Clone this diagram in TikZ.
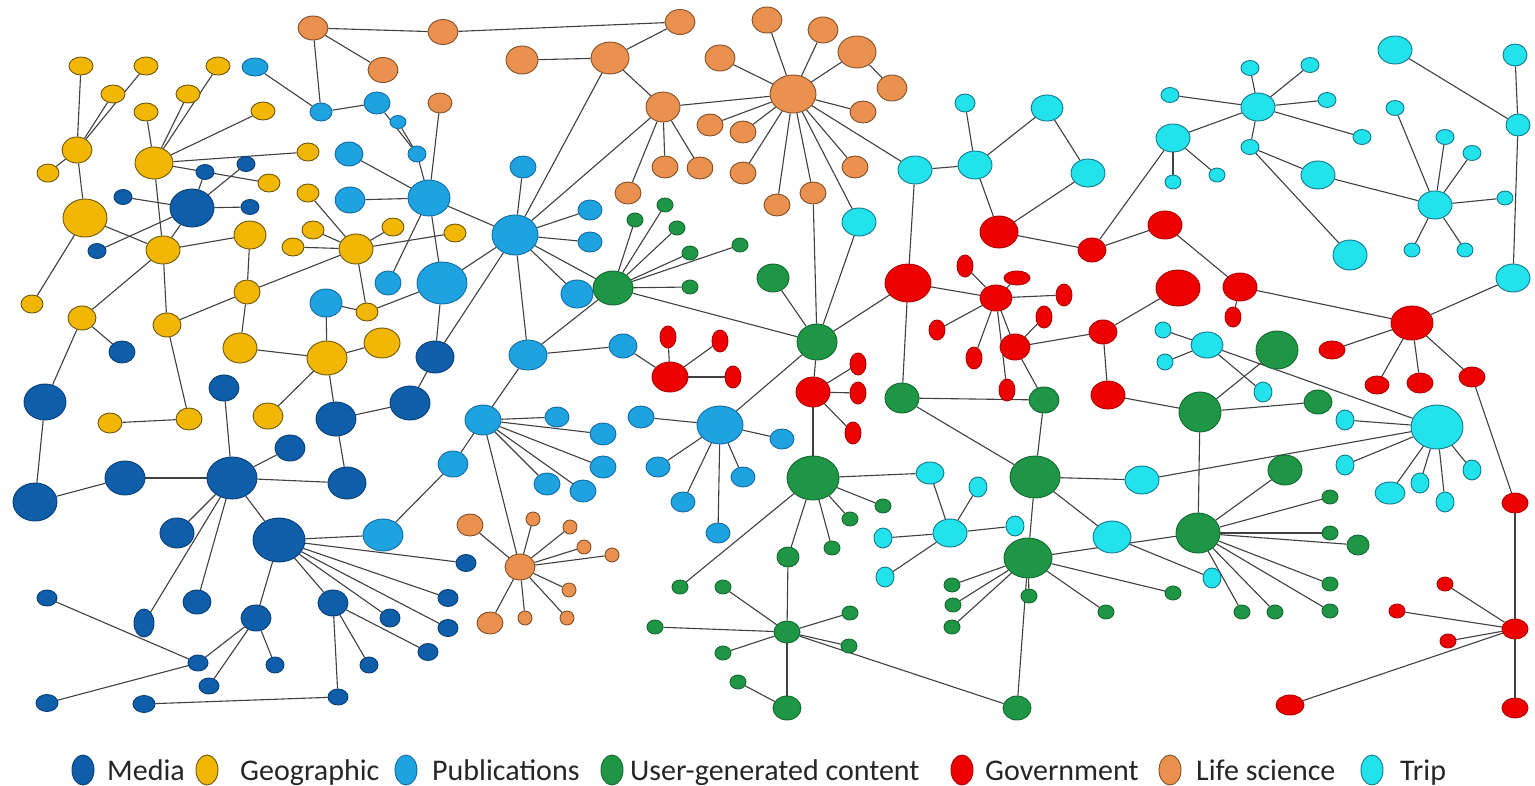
\documentclass[tikz,border=0pt]{standalone}
\usepackage{fontspec}
\setmainfont{Carlito}
\usetikzlibrary{shapes.geometric,backgrounds}
\definecolor{mediaF}{RGB}{14,94,170}
\definecolor{mediaD}{RGB}{8,62,118}
\definecolor{geoF}{RGB}{242,183,5}
\definecolor{geoD}{RGB}{110,88,10}
\definecolor{pubF}{RGB}{30,162,224}
\definecolor{pubD}{RGB}{18,108,165}
\definecolor{ugcF}{RGB}{30,150,70}
\definecolor{ugcD}{RGB}{18,105,48}
\definecolor{govF}{RGB}{236,0,0}
\definecolor{govD}{RGB}{175,0,0}
\definecolor{lifeF}{RGB}{234,145,80}
\definecolor{lifeD}{RGB}{130,80,40}
\definecolor{tripF}{RGB}{34,226,236}
\definecolor{tripD}{RGB}{18,120,140}
% one ellipse node: style, name, centre, width, height
\newcommand{\gnode}[5]{\node[#1,minimum width=#4pt,minimum height=#5pt] (#2) at (#3) {};}
\begin{document}
\begin{tikzpicture}[x=1pt,y=-1pt,
  nd/.style={ellipse,inner sep=0pt,line width=0.9pt},
  md/.style={nd,fill=mediaF,draw=mediaD},
  gg/.style={nd,fill=geoF,draw=geoD},
  pb/.style={nd,fill=pubF,draw=pubD},
  gr/.style={nd,fill=ugcF,draw=ugcD},
  rd/.style={nd,fill=govF,draw=govD},
  og/.style={nd,fill=lifeF,draw=lifeD},
  cy/.style={nd,fill=tripF,draw=tripD},
  lnk/.style={draw=black!75,line width=1.1pt},
  lg/.style={font=\fontsize{30}{31}\selectfont,anchor=base west,inner sep=0pt,text=black!85}
]
\useasboundingbox (0,0) rectangle (1535,785);

% ---- Media
\gnode{md}{M1}{192,208}{44}{38}
\gnode{md}{M2}{205,172}{18}{15}
\gnode{md}{M3}{246,164}{18}{15}
\gnode{md}{M4}{123,197}{18}{15}
\gnode{md}{M5}{250,207}{18}{15}
\gnode{md}{M6}{97,251}{18}{15}
\gnode{md}{M7}{122,352}{26}{22}
\gnode{md}{M8}{435,357}{38}{32}
\gnode{md}{M9}{45,402}{42}{36}
\gnode{md}{M10}{35,502}{44}{38}
\gnode{md}{M11}{125,478}{40}{34}
\gnode{md}{M12}{232,478}{50}{42}
\gnode{md}{M13}{224,388}{30}{26}
\gnode{md}{M14}{290,448}{30}{26}
\gnode{md}{M15}{336,419}{40}{34}
\gnode{md}{M16}{347,483}{38}{32}
\gnode{md}{M17}{410,403}{40}{34}
\gnode{md}{M18}{177,533}{34}{30}
\gnode{md}{M19}{279,540}{52}{44}
\gnode{md}{M20}{47,598}{20}{16}
\gnode{md}{M21}{144,623}{20}{28}
\gnode{md}{M22}{197,602}{28}{24}
\gnode{md}{M23}{256,618}{30}{26}
\gnode{md}{M24}{333,603}{30}{26}
\gnode{md}{M25}{390,618}{20}{18}
\gnode{md}{M26}{198,663}{20}{16}
\gnode{md}{M27}{275,665}{18}{16}
\gnode{md}{M28}{369,665}{18}{16}
\gnode{md}{M29}{209,686}{20}{16}
\gnode{md}{M30}{47,703}{22}{17}
\gnode{md}{M31}{144,704}{22}{17}
\gnode{md}{M32}{338,697}{20}{16}
\gnode{md}{M34}{466,563}{20}{17}
\gnode{md}{M35}{448,598}{20}{17}
\gnode{md}{M37}{448,628}{20}{17}
\gnode{md}{M38}{428,652}{20}{17}

% ---- Geographic
\gnode{gg}{Y1}{81,66}{24}{18}
\gnode{gg}{Y2}{146,66}{24}{18}
\gnode{gg}{Y3}{218,66}{24}{18}
\gnode{gg}{Y4}{113,94}{24}{18}
\gnode{gg}{Y5}{188,94}{24}{18}
\gnode{gg}{Y6}{146,112}{24}{18}
\gnode{gg}{Y7}{263,111}{24}{18}
\gnode{gg}{Y8}{77,150}{30}{26}
\gnode{gg}{Y9}{48,173}{22}{18}
\gnode{gg}{Y10}{154,163}{38}{32}
\gnode{gg}{Y11}{308,152}{22}{18}
\gnode{gg}{Y12}{269,183}{22}{18}
\gnode{gg}{Y13}{308,193}{22}{18}
\gnode{gg}{Y14}{85,218}{44}{38}
\gnode{gg}{Y15}{163,250}{34}{28}
\gnode{gg}{Y16}{250,235}{32}{28}
\gnode{gg}{Y17}{313,230}{22}{18}
\gnode{gg}{Y18}{293,247}{22}{18}
\gnode{gg}{Y19}{356,249}{34}{30}
\gnode{gg}{Y20}{393,227}{22}{18}
\gnode{gg}{Y21}{247,292}{26}{24}
\gnode{gg}{Y22}{32,304}{22}{18}
\gnode{gg}{Y23}{82,318}{28}{24}
\gnode{gg}{Y24}{167,325}{28}{24}
\gnode{gg}{Y25}{367,312}{22}{18}
\gnode{gg}{Y26}{240,348}{34}{30}
\gnode{gg}{Y27}{327,358}{40}{34}
\gnode{gg}{Y28}{382,343}{36}{30}
\gnode{gg}{Y29}{455,233}{22}{18}
\gnode{gg}{Y30}{110,423}{24}{20}
\gnode{gg}{Y31}{189,419}{26}{22}
\gnode{gg}{Y32}{268,416}{30}{26}

% ---- Publications
\gnode{pb}{P1}{255,67}{26}{18}
\gnode{pb}{P2}{321,112}{22}{18}
\gnode{pb}{P3}{377,103}{26}{22}
\gnode{pb}{P5}{349,154}{28}{24}
\gnode{pb}{P6}{350,200}{30}{26}
\gnode{pb}{P7}{388,283}{26}{24}
\gnode{pb}{P8}{326,303}{32}{28}
\gnode{pb}{P9}{442,283}{50}{42}
\gnode{pb}{P10}{429,198}{42}{36}
\gnode{pb}{P11}{417,154}{18}{16}
\gnode{pb}{P12}{398,122}{16}{13}
\gnode{pb}{P13}{523,167}{26}{22}
\gnode{pb}{P14}{515,235}{46}{40}
\gnode{pb}{P15}{590,210}{24}{20}
\gnode{pb}{P16}{590,242}{24}{20}
\gnode{pb}{P17}{577,294}{32}{28}
\gnode{pb}{P18}{528,355}{38}{30}
\gnode{pb}{P19}{623,346}{28}{24}
\gnode{pb}{P20}{383,535}{40}{32}
\gnode{pb}{P21}{483,420}{36}{30}
\gnode{pb}{P22}{453,464}{30}{26}
\gnode{pb}{P23}{557,417}{24}{20}
\gnode{pb}{P24}{603,434}{26}{22}
\gnode{pb}{P25}{603,467}{26}{22}
\gnode{pb}{P26}{547,484}{26}{22}
\gnode{pb}{P27}{583,491}{26}{22}
\gnode{pb}{P28}{641,417}{26}{22}
\gnode{pb}{P29}{720,425}{46}{38}
\gnode{pb}{P30}{658,467}{24}{20}
\gnode{pb}{P31}{743,477}{24}{20}
\gnode{pb}{P32}{683,502}{24}{20}
\gnode{pb}{P33}{718,533}{24}{20}
\gnode{pb}{P34}{782,439}{24}{20}

% ---- User-generated content
\gnode{gr}{G1}{613,288}{40}{34}
\gnode{gr}{Ga}{635,220}{16}{14}
\gnode{gr}{Gb}{665,205}{16}{14}
\gnode{gr}{Gc}{677,228}{16}{14}
\gnode{gr}{Gd}{690,253}{16}{14}
\gnode{gr}{Ge}{740,245}{16}{14}
\gnode{gr}{Gf}{690,287}{16}{14}
\gnode{gr}{G2}{773,278}{32}{28}
\gnode{gr}{G3}{817,342}{40}{36}
\gnode{gr}{G4}{902,398}{34}{30}
\gnode{gr}{G5}{1044,400}{30}{26}
\gnode{gr}{G6}{1277,350}{42}{38}
\gnode{gr}{G7}{813,478}{52}{44}
\gnode{gr}{G8}{680,587}{16}{14}
\gnode{gr}{G9}{723,587}{16}{14}
\gnode{gr}{G10}{655,627}{16}{14}
\gnode{gr}{G11}{723,653}{16}{14}
\gnode{gr}{G12}{738,682}{16}{14}
\gnode{gr}{G13}{787,632}{26}{22}
\gnode{gr}{G14}{787,708}{28}{24}
\gnode{gr}{G15}{1035,477}{50}{42}
\gnode{gr}{G16}{883,506}{16}{14}
\gnode{gr}{G17}{850,519}{16}{14}
\gnode{gr}{G18}{832,548}{16}{14}
\gnode{gr}{G19}{788,557}{22}{20}
\gnode{gr}{G20}{1028,558}{48}{40}
\gnode{gr}{G21}{952,585}{16}{14}
\gnode{gr}{G22}{953,605}{16}{14}
\gnode{gr}{G23}{952,627}{16}{14}
\gnode{gr}{G24}{1029,596}{16}{14}
\gnode{gr}{G25}{1106,612}{16}{14}
\gnode{gr}{G26}{850,613}{16}{14}
\gnode{gr}{G27}{849,646}{16}{14}
\gnode{gr}{G28}{1017,708}{28}{24}
\gnode{gr}{G29}{1200,412}{42}{40}
\gnode{gr}{G30}{1198,533}{44}{40}
\gnode{gr}{G31}{1318,402}{28}{24}
\gnode{gr}{G32}{1285,470}{34}{30}
\gnode{gr}{G33}{1330,497}{16}{14}
\gnode{gr}{G34}{1330,533}{16}{14}
\gnode{gr}{G35}{1358,545}{22}{20}
\gnode{gr}{G36}{1330,584}{16}{14}
\gnode{gr}{G37}{1330,611}{16}{14}
\gnode{gr}{G38}{1275,612}{16}{14}
\gnode{gr}{G39}{1242,612}{16}{14}
\gnode{gr}{G40}{1173,593}{16}{14}

% ---- Government
\gnode{rd}{R1}{999,232}{38}{32}
\gnode{rd}{R2}{1092,250}{28}{24}
\gnode{rd}{R3}{1165,225}{34}{28}
\gnode{rd}{R4}{908,283}{46}{38}
\gnode{rd}{R5}{965,266}{16}{22}
\gnode{rd}{R6}{1017,278}{26}{14}
\gnode{rd}{R7}{996,298}{32}{26}
\gnode{rd}{R8}{1064,295}{16}{22}
\gnode{rd}{R9}{937,330}{16}{20}
\gnode{rd}{R10}{1044,317}{16}{22}
\gnode{rd}{R11}{974,358}{16}{22}
\gnode{rd}{R12}{1015,347}{30}{26}
\gnode{rd}{R13}{1103,332}{28}{24}
\gnode{rd}{R14}{858,364}{16}{22}
\gnode{rd}{R15}{1178,288}{44}{36}
\gnode{rd}{R16}{1007,390}{16}{22}
\gnode{rd}{R17}{1108,395}{34}{28}
\gnode{rd}{R18}{1240,287}{34}{28}
\gnode{rd}{R19}{1233,317}{16}{20}
\gnode{rd}{R20}{1412,323}{42}{34}
\gnode{rd}{R21}{1332,350}{26}{18}
\gnode{rd}{R22}{813,392}{34}{30}
\gnode{rd}{R23}{858,393}{16}{22}
\gnode{rd}{R24}{853,433}{16}{22}
\gnode{rd}{R25}{1377,385}{24}{18}
\gnode{rd}{R26}{1420,383}{26}{20}
\gnode{rd}{R27}{1472,377}{26}{20}
\gnode{rd}{R28}{1515,503}{26}{20}
\gnode{rd}{R29}{1445,584}{16}{14}
\gnode{rd}{R30}{1397,611}{16}{14}
\gnode{rd}{R31}{1448,641}{16}{14}
\gnode{rd}{R32}{1515,629}{26}{20}
\gnode{rd}{R33}{1290,705}{28}{20}
\gnode{rd}{R34}{1515,708}{26}{20}
\gnode{rd}{R35}{670,377}{36}{30}
\gnode{rd}{R36}{668,337}{16}{22}
\gnode{rd}{R37}{720,341}{16}{22}
\gnode{rd}{R38}{733,377}{16}{22}

% ---- Life science
\gnode{og}{O1}{313,28}{30}{24}
\gnode{og}{O2}{383,70}{30}{25}
\gnode{og}{O3}{443,32}{30}{25}
\gnode{og}{O4}{680,22}{30}{25}
\gnode{og}{O5}{522,60}{32}{28}
\gnode{og}{O6}{610,58}{38}{32}
\gnode{og}{O7}{440,103}{24}{20}
\gnode{og}{O8}{663,107}{34}{30}
\gnode{og}{O9}{720,58}{30}{26}
\gnode{og}{O10}{767,20}{30}{26}
\gnode{og}{O11}{710,125}{26}{22}
\gnode{og}{O12}{743,132}{26}{22}
\gnode{og}{O13}{665,167}{26}{22}
\gnode{og}{O14}{700,168}{26}{22}
\gnode{og}{O15}{743,173}{26}{22}
\gnode{og}{O16}{628,193}{26}{22}
\gnode{og}{O18}{793,94}{46}{38}
\gnode{og}{O19}{823,30}{30}{26}
\gnode{og}{O20}{857,52}{38}{32}
\gnode{og}{O21}{892,88}{30}{26}
\gnode{og}{O22}{863,112}{26}{22}
\gnode{og}{O23}{855,167}{26}{22}
\gnode{og}{O24}{813,193}{26}{22}
\gnode{og}{O25}{777,205}{26}{22}
\gnode{og}{O26}{470,525}{26}{22}
\gnode{og}{O27}{520,567}{30}{26}
\gnode{og}{O28}{533,519}{14}{14}
\gnode{og}{O29}{570,527}{14}{14}
\gnode{og}{O30}{584,547}{14}{14}
\gnode{og}{O31}{612,555}{14}{14}
\gnode{og}{O32}{569,590}{14}{14}
\gnode{og}{O33}{567,618}{14}{14}
\gnode{og}{O34}{525,618}{14}{14}
\gnode{og}{O35}{490,623}{26}{22}

% ---- Trip
\gnode{cy}{C1}{965,103}{20}{18}
\gnode{cy}{C2}{1047,108}{32}{26}
\gnode{cy}{C3}{915,170}{34}{28}
\gnode{cy}{C4}{975,165}{34}{28}
\gnode{cy}{C5}{1088,173}{34}{28}
\gnode{cy}{C6}{859,222}{34}{28}
\gnode{cy}{C7}{1173,138}{34}{28}
\gnode{cy}{C8}{1170,95}{18}{15}
\gnode{cy}{C9}{1258,107}{34}{28}
\gnode{cy}{C10}{1250,68}{18}{15}
\gnode{cy}{C11}{1310,65}{18}{15}
\gnode{cy}{C12}{1327,100}{18}{15}
\gnode{cy}{C13}{1362,137}{18}{15}
\gnode{cy}{C14}{1250,147}{18}{15}
\gnode{cy}{C15}{1173,182}{16}{14}
\gnode{cy}{C16}{1217,175}{16}{14}
\gnode{cy}{C17}{1318,175}{34}{28}
\gnode{cy}{C18}{1350,255}{34}{30}
\gnode{cy}{C19}{1395,50}{34}{28}
\gnode{cy}{C20}{1515,55}{24}{22}
\gnode{cy}{C21}{1518,125}{24}{22}
\gnode{cy}{C22}{1395,108}{18}{15}
\gnode{cy}{C23}{1445,137}{18}{15}
\gnode{cy}{C24}{1472,153}{18}{15}
\gnode{cy}{C25}{1435,205}{34}{28}
\gnode{cy}{C26}{1505,198}{16}{14}
\gnode{cy}{C27}{1412,250}{16}{14}
\gnode{cy}{C28}{1465,250}{16}{14}
\gnode{cy}{C29}{1513,278}{34}{28}
\gnode{cy}{C30}{1163,330}{16}{16}
\gnode{cy}{C31}{1207,345}{32}{26}
\gnode{cy}{C32}{1165,362}{16}{16}
\gnode{cy}{C33}{930,473}{28}{22}
\gnode{cy}{C34}{978,487}{18}{20}
\gnode{cy}{C35}{950,533}{34}{28}
\gnode{cy}{C36}{883,538}{18}{20}
\gnode{cy}{C37}{1015,526}{18}{20}
\gnode{cy}{C38}{885,577}{18}{20}
\gnode{cy}{C39}{1142,480}{34}{28}
\gnode{cy}{C40}{1112,537}{38}{32}
\gnode{cy}{C41}{1212,578}{18}{20}
\gnode{cy}{C42}{1263,392}{18}{20}
\gnode{cy}{C43}{1345,420}{18}{20}
\gnode{cy}{C44}{1437,427}{52}{44}
\gnode{cy}{C45}{1345,465}{18}{20}
\gnode{cy}{C46}{1390,493}{30}{22}
\gnode{cy}{C47}{1420,483}{18}{20}
\gnode{cy}{C48}{1445,502}{18}{20}
\gnode{cy}{C49}{1472,470}{18}{20}

% ---- links, under the nodes
\begin{scope}[on background layer]
\fill[white] (0,0) rectangle (1535,785);
\foreach \a/\b in {
  Y1/Y8,Y2/Y8,Y4/Y8,Y9/Y8,Y8/Y14,Y14/Y22,Y14/Y15,
  Y10/Y6,Y10/Y5,Y10/Y3,Y10/Y7,Y10/Y11,Y10/Y12,Y10/Y15,
  M1/M2,M1/M3,M1/M5,M1/M4,M1/M6,Y15/M1,
  Y15/Y16,Y15/Y24,Y15/Y23,Y16/Y21,Y24/Y21,Y21/Y19,Y21/Y26,Y26/Y27,Y27/Y28,
  Y13/Y19,Y17/Y19,Y18/Y19,Y19/Y20,Y19/Y29,Y19/Y25,Y25/P8,Y25/P9,P8/Y27,
  Y23/M7,Y23/M9,Y24/Y31,Y30/Y31,Y27/Y32,Y27/M15,
  P1/P2,O1/P2,O1/O2,O1/O3,O3/O4,P2/P3,P3/P11,P12/P11,P11/P10,O7/P10,P5/P10,P6/P10,
  P10/P14,P10/P7,P10/P9,P9/M8,P9/P14,P14/M8,M8/M17,
  O4/O6,O5/O6,O6/O8,O6/P14,O8/P14,O8/O18,O8/O16,O8/O13,O8/O14,
  O9/O18,O11/O18,O12/O18,O15/O18,O10/O18,O19/O18,O20/O18,O20/O21,O22/O18,O23/O18,
  O24/O18,O25/O18,O18/C3,O18/C6,O24/G3,
  P14/P13,P14/P15,P14/P16,P14/P17,P14/G1,P14/P18,
  G1/P18,P18/P19,P19/R35,R35/R36,R35/R37,R35/R38,
  G1/Ga,G1/Gb,G1/Gc,G1/Gd,G1/Ge,G1/Gf,G1/G3,G2/G3,C6/G3,R4/G3,R22/G3,P29/G3,
  C3/C4,C3/R4,C4/C1,C4/C2,C4/R1,C2/C5,C5/R1,R1/R2,R2/C7,R2/R3,
  R4/R7,R4/G4,R7/R5,R7/R6,R7/R8,R7/R9,R7/R11,R7/R16,R7/R12,R12/G5,R12/R10,R12/R13,
  R13/R15,R13/R17,
  C7/C9,C7/C15,C7/C16,C9/C8,C9/C10,C9/C11,C9/C12,C9/C13,C9/C14,C14/C17,C14/C18,
  C17/C25,C25/C22,C25/C23,C25/C24,C25/C26,C25/C27,C25/C28,
  C19/C21,C20/C21,C21/C29,C29/R20,R3/R18,R18/R20,R18/R19,R20/R21,R20/R25,R20/R26,
  R20/R27,R27/R28,R28/R32,R32/R34,R32/R29,R32/R30,R32/R31,R32/R33,
  C31/C30,C31/C32,C31/C42,C31/C44,C44/C39,C44/C43,C44/C45,C44/C46,C44/C47,C44/C48,C44/C49,
  G6/G29,R17/G29,G29/G31,G29/G30,G30/G20,G30/G32,G30/G33,G30/G34,G30/G35,G30/G36,
  G30/G37,G30/G38,G30/G39,G20/G40,C40/C41,
  M9/M10,M10/M11,M11/M12,M12/M13,M12/M14,M12/M16,M12/M18,M12/M19,M12/M21,M12/M22,
  M15/M16,M15/M17,
  M19/P20,M19/M23,M19/M34,M19/M35,M19/M25,M19/M37,M19/M24,M20/M26,M23/M26,M23/M27,
  M23/M29,M26/M30,M24/M32,M24/M28,M24/M38,M31/M32,
  P20/P22,P21/P22,P21/P23,P21/P24,P21/P25,P21/P26,P21/P27,P21/O27,P21/P18,
  O27/O26,O27/O28,O27/O29,O27/O30,O27/O31,O27/O32,O27/O33,O27/O34,O27/O35,
  P29/P28,P29/P30,P29/P31,P29/P32,P29/P33,P29/P34,
  R22/R14,R22/R23,R22/R24,R22/G7,G4/G5,G4/G15,G5/G15,
  G7/C33,G7/G16,G7/G17,G7/G18,G7/G19,G7/G8,G19/G13,
  G13/G9,G13/G10,G13/G11,G13/G26,G13/G27,G13/G14,G13/G28,G12/G14,
  C33/C35,C35/C34,C35/C36,C35/C37,C35/C38,
  G15/C39,G15/C40,G15/G20,G20/G21,G20/G22,G20/G23,G20/G24,G20/G25,G20/G28}
  \draw[lnk] (\a) -- (\b);
\end{scope}

% ---- legend
\gnode{md}{L1}{83,770}{22}{30}
\node[lg] (T1) at (107,780) {Media};
\gnode{gg}{L2}{207,770}{22}{30}
\node[lg] (T2) at (240,780) {Geographic};
\gnode{pb}{L3}{406,770}{22}{30}
\node[lg] (T3) at (432,780) {Publications};
\gnode{gr}{L4}{612,770}{22}{30}
\node[lg] (T4) at (630,780) {User-generated content};
\gnode{rd}{L5}{962,770}{22}{30}
\node[lg] (T5) at (985,780) {Government};
\gnode{og}{L6}{1170,770}{22}{30}
\node[lg] (T6) at (1196,780) {Life science};
\gnode{cy}{L7}{1372,770}{22}{30}
\node[lg] (T7) at (1400,780) {Trip};
\end{tikzpicture}
\end{document}
